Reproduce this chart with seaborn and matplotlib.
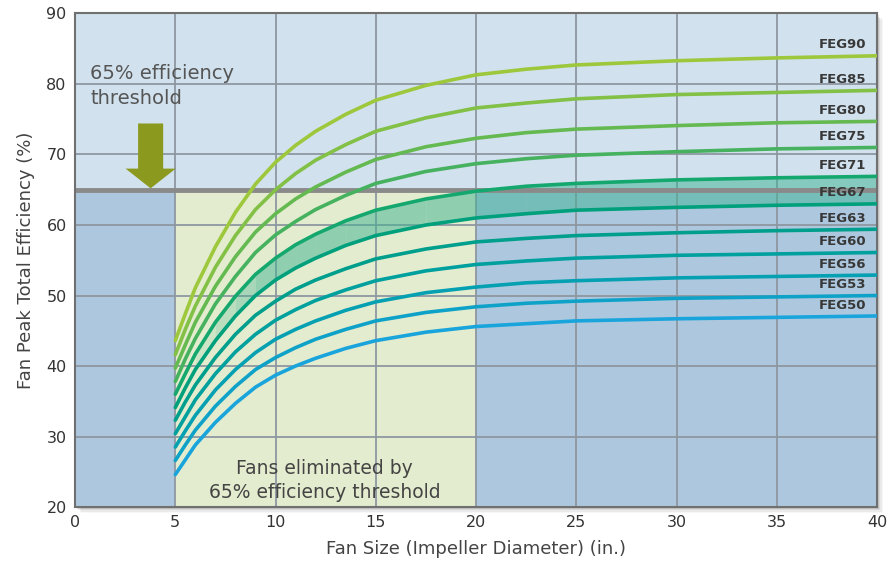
import matplotlib
matplotlib.use("Agg")
import matplotlib.pyplot as plt
from matplotlib.patches import Rectangle
import pandas as pd
import seaborn as sns

# fan size (impeller diameter, in.) where the curves were read
FAN_SIZE = [5, 5.5, 6, 7, 8, 9, 10, 11, 12, 13.5, 15, 17.5, 20, 22.5, 25, 30, 35, 40]

# peak total efficiency (%) per FEG grade
FEG90 = [43.6, 47.4, 51.1, 56.9, 61.8, 65.8, 68.9, 71.3, 73.3, 75.7, 77.7, 79.8, 81.3, 82.1, 82.7, 83.3, 83.7, 84.0]
FEG85 = [41.6, 45.2, 48.5, 54.0, 58.5, 62.2, 65.0, 67.3, 69.2, 71.4, 73.3, 75.2, 76.6, 77.3, 77.9, 78.5, 78.8, 79.1]
FEG80 = [39.7, 43.0, 46.2, 51.3, 55.5, 59.0, 61.6, 63.7, 65.4, 67.5, 69.3, 71.1, 72.3, 73.1, 73.6, 74.1, 74.5, 74.7]
FEG75 = [37.8, 41.0, 43.9, 48.8, 52.7, 56.1, 58.6, 60.5, 62.2, 64.2, 65.9, 67.6, 68.7, 69.4, 69.9, 70.4, 70.8, 71.0]
FEG71 = [36.0, 38.9, 41.7, 46.2, 49.9, 53.0, 55.3, 57.2, 58.7, 60.6, 62.1, 63.7, 64.8, 65.5, 65.9, 66.4, 66.7, 66.9]
FEG67 = [34.1, 36.9, 39.5, 43.6, 47.1, 50.0, 52.2, 53.9, 55.3, 57.1, 58.5, 60.0, 61.0, 61.6, 62.1, 62.5, 62.8, 63.0]
FEG63 = [32.3, 34.9, 37.3, 41.2, 44.5, 47.2, 49.2, 50.9, 52.2, 53.8, 55.2, 56.6, 57.6, 58.1, 58.5, 58.9, 59.2, 59.4]
FEG60 = [30.4, 32.8, 35.2, 38.9, 42.0, 44.5, 46.5, 48.0, 49.3, 50.8, 52.1, 53.5, 54.4, 54.9, 55.3, 55.7, 55.9, 56.1]
FEG56 = [28.5, 30.8, 33.0, 36.6, 39.5, 41.9, 43.8, 45.2, 46.4, 47.9, 49.1, 50.4, 51.2, 51.8, 52.1, 52.5, 52.7, 52.9]
FEG53 = [26.6, 28.8, 30.9, 34.3, 37.1, 39.5, 41.2, 42.6, 43.8, 45.2, 46.4, 47.6, 48.4, 48.9, 49.2, 49.6, 49.8, 50.0]
FEG50 = [24.6, 26.7, 28.8, 32.0, 34.7, 37.0, 38.7, 40.0, 41.1, 42.5, 43.6, 44.8, 45.6, 46.0, 46.4, 46.7, 46.9, 47.1]

GRADES = ["FEG90", "FEG85", "FEG80", "FEG75", "FEG71", "FEG67",
          "FEG63", "FEG60", "FEG56", "FEG53", "FEG50"]
CURVES = [FEG90, FEG85, FEG80, FEG75, FEG71, FEG67,
          FEG63, FEG60, FEG56, FEG53, FEG50]

THRESHOLD = 65
X_TICKS = [0, 5, 10, 15, 20, 25, 30, 35, 40]
Y_TICKS = [20, 30, 40, 50, 60, 70, 80, 90]

COLORS = ["#9dc83c", "#82c046", "#64b950", "#46b25f", "#14a86e", "#00a07d",
          "#009e8c", "#00a09e", "#05a0b2", "#0fa2c8", "#19a5dc"]

rows = []
for grade, vals in zip(GRADES, CURVES):
    for size, eff in zip(FAN_SIZE, vals):
        rows.append({"size": size, "eff": eff, "grade": grade})
df = pd.DataFrame(rows)

sns.set_style("white")
plt.rcParams["font.family"] = ["DejaVu Sans"]

fig = plt.figure(figsize=(8.88, 5.67), dpi=100)
ax_rect = [0.0845, 0.1058, 0.9032, 0.8704]

# soft drop shadow behind the plot frame
for k, a in enumerate([0.10, 0.07, 0.05, 0.03]):
    d = (k + 1) * 1.6
    fig.patches.append(Rectangle((ax_rect[0] + d / 888, ax_rect[1] - d / 567),
                                 ax_rect[2], ax_rect[3], transform=fig.transFigure,
                                 color="black", alpha=a, lw=0, zorder=-5))

ax = fig.add_axes(ax_rect, zorder=1)

# background zones
ax.fill_between([0, 40], THRESHOLD, 90, color="#d1e1ed", lw=0, zorder=0)
ax.fill_between([0, 5], 20, THRESHOLD, color="#adc8de", lw=0, zorder=0)
ax.fill_between([5, 20], 20, THRESHOLD, color="#e3ecce", lw=0, zorder=0)
ax.fill_between([20, 40], 20, THRESHOLD, color="#adc8de", lw=0, zorder=0)

# teal band between FEG71 and FEG67, fading out towards small fans
for i in range(len(FAN_SIZE) - 1):
    x0 = FAN_SIZE[i]
    if x0 < 6:
        continue
    a = min(0.5, 0.12 * (x0 - 5))
    ax.fill_between(FAN_SIZE[i:i + 2], FEG67[i:i + 2], FEG71[i:i + 2],
                    color="#3db393", alpha=a, lw=0, zorder=1)

ax.axhline(THRESHOLD, color="#8a8a8a", lw=3.5, zorder=2)

sns.lineplot(data=df, x="size", y="eff", hue="grade", hue_order=GRADES,
             palette=COLORS, lw=2.6, legend=False, estimator=None,
             ax=ax, zorder=3)

for grade, vals in zip(GRADES, CURVES):
    ax.text(39.45, vals[-1] + 1.55, grade, ha="right", va="center",
            fontsize=9.5, fontweight="bold", color="#383838", zorder=5)

ax.arrow(3.77, 74.4, 0, -9.2, width=1.25, head_width=2.5, head_length=2.8,
         length_includes_head=True, color="#8b9a1f", lw=0, zorder=4)

ax.text(0.75, 79.7, "65% efficiency\nthreshold", ha="left", va="center",
        fontsize=14, color="#555555", linespacing=1.45, zorder=5)
ax.text(12.45, 23.8, "Fans eliminated by\n65% efficiency threshold",
        ha="center", va="center", fontsize=13.5, color="#444444",
        linespacing=1.35, zorder=5)

ax.set_xlim(0, 40)
ax.set_ylim(20, 90)
ax.set_xticks(X_TICKS)
ax.set_yticks(Y_TICKS)
ax.set_axisbelow(True)
ax.grid(True, color="#8d97a1", lw=1.3)
ax.tick_params(length=0, labelsize=11.5, labelcolor="#333333")
ax.tick_params(axis="y", pad=6)
ax.tick_params(axis="x", pad=6)

ax.set_xlabel("Fan Size (Impeller Diameter) (in.)", fontsize=13,
              color="#444444", labelpad=7)
ax.set_ylabel("Fan Peak Total Efficiency (%)", fontsize=13,
              color="#444444", labelpad=8)

for side in ax.spines.values():
    side.set_color("#707070")
    side.set_linewidth(1.5)

fig.savefig("out.png", dpi=100)
